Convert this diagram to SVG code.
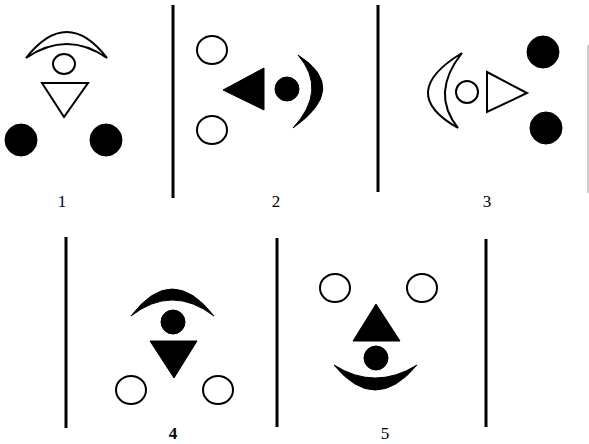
<svg xmlns="http://www.w3.org/2000/svg" width="589" height="444" viewBox="0 0 589 444">
<style>
.o{fill:#fff;stroke:#000;stroke-width:2}
.f{fill:#000;stroke:#000;stroke-width:1}
.v{stroke:#000;stroke-width:3;fill:none}
.lb{font-family:"Liberation Serif",serif;font-size:17px;fill:#000;text-anchor:middle}
</style>
<rect width="589" height="444" fill="#fff"/>
<g id="dividers">
<line class="v" x1="173" y1="5" x2="173" y2="198"/>
<line class="v" x1="378" y1="5" x2="378" y2="192"/>
<line x1="588" y1="45" x2="588" y2="193" stroke="#999" stroke-width="1"/>
<line class="v" x1="66" y1="237" x2="66" y2="428"/>
<line class="v" x1="277" y1="238" x2="277" y2="427"/>
<line class="v" x1="486" y1="239" x2="486" y2="427"/>
</g>
<g id="panel1">
<path class="o" d="M26,58 Q67,6 107,58 Q67,30 26,58 Z"/>
<ellipse class="o" cx="64" cy="64" rx="11" ry="10"/>
<polygon class="o" points="42,83 88,83 64,117"/>
<circle class="f" cx="21" cy="140" r="16"/>
<circle class="f" cx="106" cy="140" r="16"/>
<text class="lb" x="62" y="207">1</text>
</g>
<g id="panel2">
<ellipse class="o" cx="212" cy="50" rx="15" ry="14"/>
<ellipse class="o" cx="212" cy="130" rx="15" ry="14"/>
<polygon class="f" points="223,90 264,68 264,110"/>
<circle class="f" cx="287" cy="89" r="12"/>
<path class="f" d="M298,55 Q350,88 293,128 Q328,90 298,55 Z"/>
<text class="lb" x="276" y="207">2</text>
</g>
<g id="panel3">
<path class="o" d="M462,53 Q396,93 458,128 Q430,93 462,53 Z"/>
<circle class="o" cx="467" cy="92" r="11"/>
<polygon class="o" points="487,72 487,112 527,93"/>
<circle class="f" cx="543" cy="52" r="16"/>
<circle class="f" cx="546" cy="128" r="16"/>
<text class="lb" x="487" y="207">3</text>
</g>
<g id="panel4">
<path class="f" d="M131,316 Q172,262 214,316 Q172,284 131,316 Z"/>
<circle class="f" cx="173" cy="322" r="12"/>
<polygon class="f" points="150,341 197,341 174,378"/>
<ellipse class="o" cx="131" cy="390" rx="15" ry="14"/>
<ellipse class="o" cx="218" cy="390" rx="15" ry="14"/>
<text class="lb" x="173" y="439" font-size="16" font-weight="bold">4</text>
</g>
<g id="panel5">
<ellipse class="o" cx="335" cy="288" rx="15" ry="14"/>
<ellipse class="o" cx="422" cy="288" rx="15" ry="14"/>
<polygon class="f" points="376,304 353,341 400,341"/>
<circle class="f" cx="376" cy="358" r="12"/>
<path class="f" d="M334,365 Q375,415 417,365 Q375,391 334,365 Z"/>
<text class="lb" x="385" y="439" font-size="16">5</text>
</g>
</svg>
